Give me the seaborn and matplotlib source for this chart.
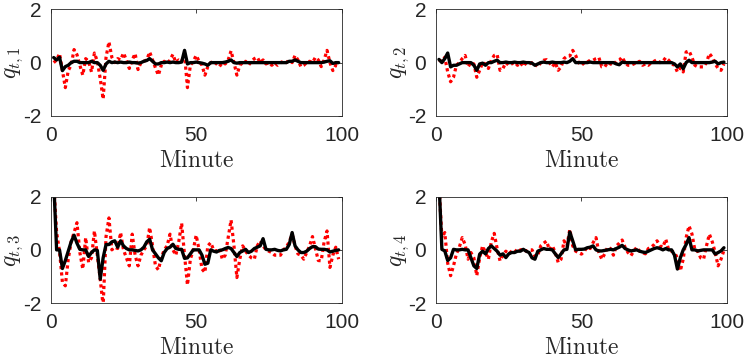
import numpy as np
import matplotlib
matplotlib.use("Agg")
import matplotlib.pyplot as plt
import seaborn as sns

# minutes of the session
minutes = np.arange(1, 100)

# series, one pair (dotted red / solid black) per panel
q1_red = [0.0, 0.1, 0.34, -0.3, -0.94, -0.3, -0.1, 0.49, 0.3, -0.1,
          -0.47, 0.15, 0.05, -0.35, 0.36, 0.05, -0.6, -1.37, 0.2, 0.78,
          0.2, 0.0, 0.15, 0.1, 0.36, 0.1, -0.22, 0.1, 0.34, -0.26,
          0.0, 0.05, 0.1, 0.4, 0.1, -0.2, -0.47, -0.1, 0.05, -0.05,
          0.1, 0.31, 0.0, 0.1, 0.05, 0.3, -0.94, -0.1, 0.05, 0.27,
          0.05, -0.1, -0.47, -0.15, 0.0, 0.05, -0.05, -0.15, 0.0, -0.05,
          0.1, 0.44, 0.0, -0.47, -0.1, 0.0, 0.05, -0.1, 0.05, 0.15,
          0.2, 0.0, 0.1, -0.05, 0.0, -0.1, 0.0, -0.1, 0.0, 0.05,
          0.0, 0.1, 0.0, 0.27, 0.1, -0.15, -0.1, 0.0, 0.05, 0.0,
          0.2, 0.1, -0.15, 0.1, 0.46, 0.0, -0.3, -0.1, -0.2]
q1_black = [0.19, 0.1, 0.2, -0.3, -0.15, -0.1, 0.0, 0.05, 0.05, 0.0,
            0.0, 0.0, 0.0, 0.05, 0.0, 0.0, -0.1, -0.29, -0.05, 0.05,
            0.0, 0.02, 0.0, 0.02, 0.0, 0.0, 0.02, 0.0, 0.0, -0.02,
            0.0, 0.05, 0.08, 0.15, 0.05, -0.05, -0.05, 0.0, 0.0, 0.02,
            0.0, 0.02, 0.0, 0.0, 0.02, 0.46, -0.05, 0.0, 0.0, 0.02,
            0.0, -0.02, -0.05, -0.1, 0.0, 0.0, 0.0, 0.0, 0.0, 0.02,
            0.05, 0.1, 0.0, -0.02, 0.0, 0.0, 0.0, 0.0, 0.0, 0.0,
            0.0, 0.0, 0.0, 0.0, 0.0, 0.0, 0.0, 0.0, 0.0, 0.0,
            0.0, 0.05, 0.05, 0.1, 0.05, 0.0, 0.0, 0.0, 0.0, 0.0,
            0.0, 0.0, 0.0, 0.02, 0.05, 0.07, -0.03, 0.0, 0.0]

q2_red = [0.09, 0.05, 0.2, -0.35, -0.72, -0.55, -0.1, 0.0, 0.15, 0.27,
          -0.16, 0.0, -0.05, -0.55, -0.29, 0.0, -0.05, -0.22, 0.09, 0.27,
          0.31, -0.29, -0.22, 0.0, -0.1, -0.05, 0.02, -0.1, 0.0, -0.15,
          0.0, -0.05, 0.0, -0.05, -0.16, 0.0, 0.09, 0.11, 0.0, -0.16,
          0.0, -0.29, -0.16, 0.15, 0.24, 0.25, 0.46, 0.27, 0.0, -0.1,
          0.0, 0.02, 0.09, 0.09, 0.15, 0.19, -0.16, -0.16, 0.0, -0.05,
          -0.1, 0.05, 0.09, 0.21, 0.0, -0.1, -0.1, -0.05, 0.0, 0.05,
          -0.1, -0.05, -0.1, 0.0, 0.05, 0.11, 0.0, 0.05, 0.19, 0.09,
          -0.05, -0.1, -0.35, -0.2, -0.35, 0.4, 0.44, 0.2, -0.1, -0.16,
          -0.16, -0.16, 0.0, 0.34, 0.2, -0.05, -0.22, -0.29, -0.05]
q2_black = [0.12, 0.0, 0.15, 0.36, -0.16, -0.1, -0.1, -0.05, 0.0, 0.0,
            0.0, 0.0, -0.1, -0.29, -0.05, -0.02, -0.1, 0.0, 0.0, 0.05,
            0.09, 0.0, 0.0, 0.02, 0.0, 0.0, 0.02, 0.0, 0.0, 0.02,
            0.0, 0.0, -0.02, -0.1, -0.05, 0.0, 0.02, 0.0, 0.0, 0.02,
            0.0, 0.0, 0.0, 0.02, 0.0, 0.05, 0.15, 0.0, 0.0, 0.0,
            0.0, 0.0, 0.02, 0.0, 0.0, 0.0, 0.0, 0.0, 0.0, 0.0,
            0.0, -0.05, -0.08, 0.02, 0.0, 0.0, 0.0, 0.0, 0.0, 0.0,
            0.0, 0.0, 0.0, 0.0, 0.0, 0.0, 0.0, 0.0, 0.0, 0.0,
            0.0, -0.05, -0.16, -0.05, -0.23, 0.0, 0.09, 0.0, 0.0, 0.0,
            0.0, 0.0, 0.0, 0.0, 0.02, 0.05, -0.05, 0.0, 0.02]

q3_red = [2.5, 0.65, -0.05, -1.22, -1.35, -0.35, 0.3, 0.65, 1.02, -0.1,
          -0.72, 0.46, -0.47, -0.3, 0.71, -0.2, -1.1, -2.1, 0.5, 1.2,
          0.0, 0.1, 0.05, 0.65, 0.0, -0.3, -0.6, 0.59, -0.2, -0.6,
          -0.2, 0.0, 0.15, 0.84, 0.15, -0.6, -0.75, -0.3, 0.0, 0.15,
          0.59, 0.0, -0.2, 0.3, 1.0, -0.2, -1.32, -0.35, 0.0, 0.55,
          0.0, -0.72, -0.85, 0.15, 0.27, 0.0, -0.05, 0.05, -0.35, -0.2,
          0.46, 1.12, 0.15, -1.04, -0.35, 0.15, -0.05, -0.2, -0.3, -0.35,
          0.15, 0.34, 0.15, 0.0, -0.05, -0.1, -0.2, -0.2, -0.2, 0.0,
          0.1, 0.3, 0.59, 0.15, -0.15, -0.2, -0.35, -0.1, 0.15, 0.5,
          0.05, -0.4, -0.41, 0.3, 0.71, -0.66, -0.2, 0.1, -0.35]
q3_black = [2.6, 0.0, 0.0, -0.7, -0.4, -0.05, 0.3, 0.55, 0.25, 0.02,
            0.0, 0.0, -0.25, -0.1, 0.0, -0.02, -1.1, -0.3, 0.2, 0.2,
            0.3, 0.34, 0.1, 0.34, 0.15, 0.05, 0.0, 0.0, -0.02, -0.04,
            0.0, 0.1, 0.3, 0.4, 0.0, -0.15, -0.3, -0.41, -0.1, 0.05,
            0.1, 0.21, 0.05, 0.02, 0.02, -0.32, -0.3, -0.15, 0.0, 0.0,
            0.0, -0.2, -0.54, -0.5, 0.0, -0.05, -0.08, -0.02, 0.0, 0.05,
            0.09, 0.05, -0.1, -0.25, -0.1, -0.04, 0.02, -0.1, -0.05, 0.05,
            0.1, 0.15, 0.42, 0.02, 0.0, 0.0, 0.02, -0.02, -0.04, 0.0,
            0.02, 0.2, 0.65, 0.15, 0.0, -0.1, -0.1, -0.05, 0.05, 0.12,
            0.12, 0.03, 0.02, 0.02, 0.0, -0.08, -0.05, -0.02, 0.0]

q4_red = [2.5, 0.46, 0.65, -0.5, -0.97, -0.6, -0.15, 0.1, 0.46, 0.2,
          -0.35, -0.1, -0.3, -0.97, -0.3, 0.15, -0.1, -0.35, 0.3, 0.62,
          0.05, -0.41, -0.2, -0.05, -0.15, -0.05, 0.0, -0.1, 0.0, 0.02,
          -0.05, 0.0, 0.0, -0.25, -0.2, 0.15, 0.25, 0.33, 0.0, 0.15,
          -0.1, -0.47, -0.35, 0.34, 0.15, 0.77, 0.15, -0.05, -0.1, -0.16,
          -0.05, 0.1, 0.05, 0.27, 0.46, -0.1, -0.35, -0.15, 0.1, 0.05,
          -0.2, 0.15, 0.25, 0.37, 0.1, -0.1, -0.22, -0.05, 0.1, -0.05,
          -0.1, -0.15, 0.05, 0.1, 0.2, 0.34, 0.15, 0.1, 0.4, 0.0,
          -0.05, -0.1, -0.3, -0.79, -0.35, 0.46, 0.9, 0.6, 0.0, -0.05,
          -0.3, -0.35, 0.15, 0.59, 0.3, -0.1, -0.6, -0.35, -0.02]
q4_black = [2.6, 0.02, -0.04, -0.4, -0.3, 0.02, 0.0, 0.0, 0.02, 0.0,
            0.0, -0.3, -0.6, -0.7, -0.16, -0.05, -0.15, 0.05, 0.15, 0.05,
            -0.05, -0.2, -0.15, -0.29, -0.15, -0.1, -0.1, -0.05, -0.05, 0.02,
            -0.05, -0.1, -0.3, -0.35, -0.05, 0.0, 0.05, 0.02, 0.02, 0.0,
            -0.15, -0.29, -0.15, 0.0, 0.02, 0.67, 0.34, 0.0, 0.02, 0.02,
            0.03, 0.08, 0.1, 0.15, 0.0, -0.04, -0.04, -0.02, 0.0, 0.02,
            0.0, 0.05, 0.1, 0.17, 0.05, 0.0, -0.04, -0.02, 0.0, -0.05,
            -0.08, -0.1, -0.05, 0.0, 0.05, 0.08, 0.05, 0.0, 0.05, 0.0,
            0.0, -0.2, -0.72, -0.3, 0.0, 0.2, 0.46, 0.0, 0.0, -0.04,
            -0.02, 0.0, 0.0, 0.0, 0.0, -0.16, -0.1, -0.04, 0.08]

panel_labels = [r'$q_{t,1}$', r'$q_{t,2}$', r'$q_{t,3}$', r'$q_{t,4}$']
red_series = [q1_red, q2_red, q3_red, q4_red]
black_series = [q1_black, q2_black, q3_black, q4_black]

sns.set_theme(style='white')
plt.rcParams['font.family'] = ['Liberation Sans', 'DejaVu Sans']
plt.rcParams['mathtext.fontset'] = 'cm'
plt.rcParams['axes.unicode_minus'] = False
plt.rcParams['axes.edgecolor'] = '#262626'
plt.rcParams['axes.linewidth'] = 0.6

fig, axes = plt.subplots(2, 2, figsize=(7.47, 3.6), dpi=100)
fig.subplots_adjust(left=0.068, right=0.973, top=0.974, bottom=0.158,
                    wspace=0.325, hspace=0.758)

for ax, lab, red, black in zip(axes.flat, panel_labels, red_series, black_series):
    sns.lineplot(x=minutes, y=red, ax=ax, color='#ff0000',
                 linestyle=(0, (1, 1)), linewidth=2.3)
    sns.lineplot(x=minutes, y=black, ax=ax, color='black', linewidth=2.4)
    ax.set_xlim(0, 100)
    ax.set_ylim(-2, 2)
    ax.set_xticks([0, 50, 100])
    ax.set_yticks([-2, 0, 2])
    ax.tick_params(direction='in', length=3, width=0.6, labelsize=15,
                   top=True, right=True, colors='#262626', pad=7)
    ax.set_xlabel(r'$\mathrm{Minute}$', fontsize=17, labelpad=4)
    ax.set_ylabel(lab, fontsize=17, labelpad=-2)

fig.savefig('out.png', dpi=100)
